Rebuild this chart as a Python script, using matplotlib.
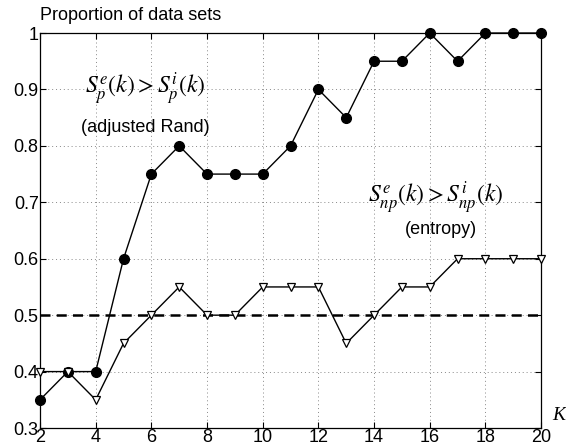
import matplotlib
matplotlib.use('Agg')
import matplotlib.pyplot as plt
import numpy as np

plt.rcParams['font.family'] = ['Liberation Sans', 'DejaVu Sans']
plt.rcParams['mathtext.fontset'] = 'stix'

k = np.arange(2, 21)
rand_prop = [0.35, 0.40, 0.40, 0.60, 0.75, 0.80, 0.75, 0.75, 0.75, 0.80,
             0.90, 0.85, 0.95, 0.95, 1.00, 0.95, 1.00, 1.00, 1.00]
entropy_prop = [0.40, 0.40, 0.35, 0.45, 0.50, 0.55, 0.50, 0.50, 0.55, 0.55,
                0.55, 0.45, 0.50, 0.55, 0.55, 0.60, 0.60, 0.60, 0.60]
xticks = [2, 4, 6, 8, 10, 12, 14, 16, 18, 20]
yticks = [0.3, 0.4, 0.5, 0.6, 0.7, 0.8, 0.9, 1.0]
ytick_labels = ['0.3', '0.4', '0.5', '0.6', '0.7', '0.8', '0.9', '1']

fig = plt.figure(figsize=(5.66, 4.48), dpi=100)
ax = fig.add_axes([0.0707, 0.0446, 0.8853, 0.8817])

ax.axhline(0.5, color='black', linestyle='--', linewidth=1.8, dashes=(4, 2.5))
ax.plot(k, rand_prop, color='black', linewidth=1, marker='o', markersize=7,
        markerfacecolor='black', zorder=3, clip_on=False)
ax.plot(k, entropy_prop, color='black', linewidth=1, marker='v', markersize=6,
        markerfacecolor='white', markeredgewidth=0.9, zorder=3, clip_on=False)

ax.set_xlim(2, 20)
ax.set_ylim(0.3, 1.0)
ax.set_xticks(xticks)
ax.set_yticks(yticks)
ax.set_yticklabels(ytick_labels)
ax.grid(True, linestyle=(0, (1, 3)), color='#888888', linewidth=0.7)
ax.tick_params(direction='in', top=True, right=True, labelsize=13, length=4, pad=1)
for s in ax.spines.values():
    s.set_linewidth(0.9)

ax.text(5.77, 0.902, r'$S_p^e(k) > S_p^i(k)$', fontsize=17, ha='center', va='center')
ax.text(5.77, 0.833, '(adjusted Rand)', fontsize=13, ha='center', va='center')
ax.text(16.2, 0.709, r'$S_{np}^e(k) > S_{np}^i(k)$', fontsize=17, ha='center', va='center')
ax.text(16.4, 0.651, '(entropy)', fontsize=13, ha='center', va='center')

fig.text(0.0707, 0.965, 'Proportion of data sets', fontsize=13, ha='left', va='center')
fig.text(0.987, 0.072, 'K', fontsize=14, fontstyle='italic', family='Liberation Serif',
         ha='center', va='center')

fig.savefig('out.png', dpi=100)
